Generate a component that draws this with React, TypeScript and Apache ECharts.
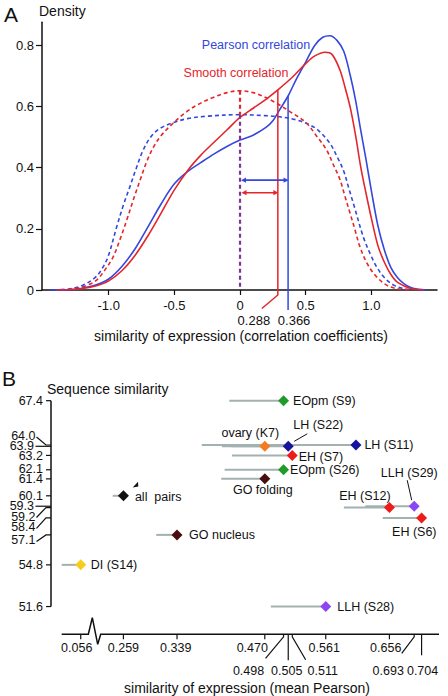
import React, { useEffect, useRef } from "react";
import * as echarts from "echarts";

const FONT = '"Liberation Sans", Arial, Helvetica, sans-serif';
const BLUE = "#3448dc";
const RED = "#e4262b";
const PURPLE_LINE = "#7d3598";
const INK = "#111111";

// ---------------- Panel A data ----------------
const pearsonObserved: number[][] = [
  [-1.45, 0], [-1.3, 0.001], [-1.2, 0.006], [-1.1, 0.016], [-1.0, 0.036], [-0.9, 0.077],
  [-0.8, 0.134], [-0.7, 0.207], [-0.6, 0.282], [-0.5, 0.347], [-0.4, 0.387], [-0.3, 0.416],
  [-0.2, 0.444], [-0.1, 0.469], [0, 0.49], [0.1, 0.506], [0.2, 0.532], [0.25, 0.553],
  [0.3, 0.588], [0.366, 0.634], [0.43, 0.69], [0.5, 0.745], [0.57, 0.8], [0.63, 0.826],
  [0.685, 0.831], [0.74, 0.815], [0.79, 0.78], [0.84, 0.7], [0.88, 0.62], [0.92, 0.52],
  [0.96, 0.425], [1.0, 0.325], [1.05, 0.21], [1.1, 0.13], [1.15, 0.072], [1.2, 0.04],
  [1.25, 0.02], [1.3, 0.008], [1.36, 0.002], [1.42, 0],
];
const smoothObserved: number[][] = [
  [-1.4, 0], [-1.3, 0.001], [-1.2, 0.005], [-1.1, 0.013], [-1.0, 0.03], [-0.9, 0.063],
  [-0.8, 0.113], [-0.7, 0.178], [-0.6, 0.252], [-0.5, 0.327], [-0.4, 0.39], [-0.3, 0.44],
  [-0.2, 0.482], [-0.1, 0.523], [0, 0.564], [0.1, 0.594], [0.2, 0.624], [0.288, 0.654],
  [0.4, 0.696], [0.5, 0.74], [0.57, 0.765], [0.647, 0.777], [0.7, 0.77], [0.76, 0.72],
  [0.8, 0.662], [0.84, 0.595], [0.88, 0.505], [0.92, 0.4], [0.96, 0.315], [1.0, 0.235],
  [1.05, 0.145], [1.1, 0.09], [1.15, 0.05], [1.2, 0.025], [1.3, 0.005], [1.4, 0],
];
const pearsonRandom: number[][] = [
  [-1.42, 0], [-1.3, 0.004], [-1.2, 0.015], [-1.1, 0.042], [-1.04, 0.077], [-1.0, 0.115],
  [-0.94, 0.205], [-0.89, 0.275], [-0.84, 0.336], [-0.79, 0.398], [-0.74, 0.455], [-0.68, 0.5],
  [-0.61, 0.528], [-0.5, 0.548], [-0.4, 0.56], [-0.25, 0.568], [0, 0.573], [0.18, 0.57],
  [0.3, 0.566], [0.43, 0.556], [0.53, 0.54], [0.6, 0.52], [0.685, 0.479], [0.74, 0.435],
  [0.79, 0.388], [0.83, 0.33], [0.87, 0.273], [0.94, 0.172], [1.0, 0.11], [1.04, 0.076],
  [1.1, 0.04], [1.17, 0.016], [1.24, 0.005], [1.32, 0],
];
const smoothRandom: number[][] = [
  [-1.36, 0], [-1.25, 0.005], [-1.15, 0.018], [-1.09, 0.033], [-1.03, 0.065], [-0.97, 0.105],
  [-0.91, 0.17], [-0.86, 0.232], [-0.81, 0.298], [-0.76, 0.36], [-0.71, 0.42], [-0.66, 0.466],
  [-0.6, 0.505], [-0.51, 0.545], [-0.42, 0.578], [-0.33, 0.604], [-0.2, 0.63], [-0.1, 0.645],
  [0, 0.651], [0.1, 0.645], [0.18, 0.632], [0.28, 0.61], [0.38, 0.583], [0.5, 0.548],
  [0.58, 0.505], [0.66, 0.457], [0.71, 0.41], [0.76, 0.362], [0.8, 0.305], [0.84, 0.248],
  [0.88, 0.19], [0.91, 0.145], [0.97, 0.085], [1.04, 0.043], [1.12, 0.015], [1.2, 0.004], [1.3, 0],
];
const densityTicks = [0, 0.2, 0.4, 0.6, 0.8];
const coefficientTicks = [-1, -0.5, 0, 0.5, 1];
// index 0 = Pearson, index 1 = Smooth
const medianShift = [0.366, 0.288];
const shiftLineTop = [0.634, 0.654];
const shiftArrowLevel = [0.359, 0.318];
const randomAtZero = [0.573, 0.651];

// ---------------- Panel B data ----------------
const groupNames = [
  "EOpm (S9)", "ovary (K7)", "LH (S22)", "LH (S11)", "EH (S7)", "EOpm (S26)", "GO folding",
  "all  pairs", "EH (S12)", "LLH (S29)", "EH (S6)", "GO nucleus", "DI (S14)", "LLH (S28)",
];
const meanPearson = [0.498, 0.470, 0.505, 0.606, 0.511, 0.498, 0.470, 0.259, 0.656, 0.693, 0.704, 0.339, 0.056, 0.561];
const sequenceSimilarity = [67.4, 63.9, 63.9, 64.0, 63.2, 62.1, 61.4, 60.1, 59.2, 59.3, 58.4, 57.1, 54.8, 51.6];
const rangeLower = [0.417, 0.42, 0.406, 0.376, 0.421, 0.41, 0.405, 0.243, 0.588, 0.62, 0.646, 0.308, 0.0276, 0.479];
const seqTicks = [67.4, 64.0, 63.9, 63.2, 62.1, 61.4, 60.1, 59.3, 59.2, 58.4, 57.1, 54.8, 51.6];
const pearsonTicks = [0.056, 0.259, 0.339, 0.470, 0.498, 0.505, 0.511, 0.561, 0.656, 0.693, 0.704];

// ---------------- styles / layout ----------------
const GREEN = "#1f9b2c", ORANGE = "#f47c20", NAVY = "#14149c", PRED = "#ee1b1b";
const BROWN = "#4a0d0d", VIOLET = "#8c46f2", YELLOW = "#f8cc1a";
const pointColors = [GREEN, ORANGE, NAVY, NAVY, PRED, GREEN, BROWN, INK, PRED, VIOLET, PRED, BROWN, YELLOW, VIOLET];
type LabelLayout = { dx: number; dy: number; align: string; leader?: number[][]; mark?: number[][] };
const pointLabelLayout: LabelLayout[] = [
  { dx: 9.5, dy: 0.5, align: "left" },
  { dx: -14.5, dy: -13.5, align: "center" },
  { dx: 30, dy: -21, align: "center", leader: [[6, -5], [19, -12.5]] },
  { dx: 8.5, dy: 0, align: "left" },
  { dx: 6.5, dy: 1.5, align: "left" },
  { dx: 6.5, dy: 0, align: "left" },
  { dx: -2, dy: 11.5, align: "center" },
  { dx: 11.5, dy: 1, align: "left", mark: [[9.3, -8.4], [14.6, -14], [14.9, -9.2]] },
  { dx: -24.5, dy: -11.5, align: "center" },
  { dx: -5, dy: -33, align: "center", leader: [[-7, -26], [-2.5, -6]] },
  { dx: -7.3, dy: 14, align: "center" },
  { dx: 12, dy: 0, align: "left" },
  { dx: 10, dy: 0.5, align: "left" },
  { dx: 11.5, dy: 0.5, align: "left" },
];
// y tick kinds: n = normal, l = leader (label moved by dy), t = long tick
const seqTickLayout = [
  { k: "n", dy: 0 }, { k: "l", dy: -9 }, { k: "t", dy: 0 }, { k: "n", dy: 0.5 }, { k: "n", dy: -0.7 },
  { k: "n", dy: 0.5 }, { k: "n", dy: 0 }, { k: "t", dy: 0 }, { k: "l", dy: 9 }, { k: "l", dy: 9.5 },
  { k: "l", dy: 5.5 }, { k: "n", dy: 0 }, { k: "n", dy: 0 },
];
// x tick kinds: n = normal row 1; v = long vertical + row 2; d = diagonal leader + row 2
const pearsonTickLayout = [
  { k: "n", dx: -4 }, { k: "n", dx: 0 }, { k: "n", dx: -1.3 }, { k: "n", dx: -12.5 },
  { k: "d", dx: -35, lx: -18, ly: 24 }, { k: "v", dx: -1.5, len: 26 }, { k: "d", dx: 30.5, lx: 13.4, ly: 25.5 },
  { k: "n", dx: -1.5 }, { k: "n", dx: -3.7 }, { k: "d", dx: -26, lx: -12.5, ly: 19 },
  { k: "v", dx: 1, len: 21 },
];

const XB_MIN = 0.0276, XB_MAX = 0.73, BREAK_START = 0.07, BREAK_END = 0.24, BREAK_GAP = 0.0307;
const YB_MIN = 49.47, YB_MAX = 67.4;

function txt(x: number, y: number, text: string, fill: string, size: number, align = "center", lineHeight?: number) {
  const style: any = { text, fill, fontSize: size, fontFamily: FONT, align, verticalAlign: "middle" };
  if (lineHeight) style.lineHeight = lineHeight;
  return { type: "text", x, y, style };
}
function seg(x1: number, y1: number, x2: number, y2: number, stroke: string, lineWidth = 1.2, lineDash?: number[]) {
  return { type: "line", shape: { x1, y1, x2, y2 }, style: { stroke, lineWidth, lineDash, fill: "none" } };
}
function arrowPieces(xa: number, xb: number, y: number, color: string) {
  const h = 5, w = 2.6;
  return [
    seg(xa + 2, y, xb - 2, y, color, 1.6),
    { type: "polygon", shape: { points: [[xa, y], [xa + h, y - w], [xa + h, y + w]] }, style: { fill: color } },
    { type: "polygon", shape: { points: [[xb, y], [xb - h, y - w], [xb - h, y + w]] }, style: { fill: color } },
  ];
}

function renderTopAnnotations(_p: any, api: any) {
  const [x0, y0] = api.coord([0, 0]);
  const blueTop = api.coord([0, randomAtZero[0]])[1];
  const redTop = api.coord([0, randomAtZero[1]])[1];
  const children: any[] = [];
  children.push(seg(x0, redTop, x0, blueTop, RED, 2.2, [4, 3]));
  children.push(seg(x0, blueTop, x0, y0, PURPLE_LINE, 2.2, [4, 3]));
  const r = api.coord([medianShift[1], shiftLineTop[1]]);
  children.push({
    type: "polyline",
    shape: { points: [[r[0], r[1]], [r[0], y0 + 5], [r[0] - 16, y0 + 18.5]] },
    style: { stroke: RED, lineWidth: 1.5, fill: "none" },
  });
  const b = api.coord([medianShift[0], shiftLineTop[0]]);
  children.push(seg(b[0], b[1], b[0], y0 + 20, BLUE, 1.5));
  const ba = api.coord([medianShift[0], shiftArrowLevel[0]]);
  children.push(...arrowPieces(x0 + 1, ba[0] + 0.5, ba[1], BLUE));
  const ra = api.coord([medianShift[1], shiftArrowLevel[1]]);
  children.push(...arrowPieces(x0 + 1.5, ra[0] + 0.5, ra[1], RED));
  children.push(txt(r[0] - 24, y0 + 30, medianShift[1].toFixed(3), INK, 13));
  children.push(txt(b[0] + 6, y0 + 30, medianShift[0].toFixed(3), INK, 13));
  return { type: "group", children };
}

function renderBottomAxes(_p: any, api: any) {
  const c = (x: number, y: number) => api.coord([x, y]);
  const [xl, axisY] = c(XB_MIN, YB_MIN);
  const xr = c(XB_MAX, YB_MIN)[0];
  const bx = c(BREAK_START, YB_MIN)[0];
  const children: any[] = [];
  children.push({
    type: "polyline",
    shape: {
      points: [[xl, axisY], [bx - 1.8, axisY], [bx + 2.2, axisY - 16.6], [bx + 7.6, axisY + 10],
        [bx + 10.6, axisY], [xr, axisY]],
    },
    style: { stroke: INK, lineWidth: 1.5, fill: "none" },
  });
  pearsonTicks.forEach((v, i) => {
    const L = pearsonTickLayout[i] as any;
    const px = c(v, YB_MIN)[0];
    const label = v.toFixed(3);
    if (L.k === "n") {
      children.push(seg(px, axisY, px, axisY + 5, INK, 1.2));
      children.push(txt(px + L.dx, axisY + 13.4, label, INK, 12.5));
    } else if (L.k === "v") {
      children.push(seg(px, axisY, px, axisY + L.len, INK, 1.2));
      children.push(txt(px + L.dx, axisY + 36.3, label, INK, 12.5));
    } else {
      children.push({
        type: "polyline",
        shape: { points: [[px, axisY], [px, axisY + 2.5], [px + L.lx, axisY + L.ly]] },
        style: { stroke: INK, lineWidth: 1.2, fill: "none" },
      });
      children.push(txt(px + L.dx, axisY + 36.3, label, INK, 12.5));
    }
  });
  const axisX = xl - 10.7;
  const yTop = c(XB_MIN, seqTicks[0])[1];
  const yBot = c(XB_MIN, seqTicks[seqTicks.length - 1])[1];
  children.push(seg(axisX, yTop, axisX, yBot, INK, 1.5));
  seqTicks.forEach((v, i) => {
    const L = seqTickLayout[i];
    const py = c(XB_MIN, v)[1];
    const label = v.toFixed(1);
    if (L.k === "n") {
      children.push(seg(axisX - 5, py, axisX, py, INK, 1.2));
      children.push(txt(axisX - 8, py + L.dy, label, INK, 12.5, "right", 10));
    } else if (L.k === "t") {
      children.push(seg(axisX - 15.5, py, axisX, py, INK, 1.2));
      children.push(txt(axisX - 17, py, label, INK, 12.5, "right", 10));
    } else {
      const ly = py + L.dy;
      children.push({
        type: "polyline",
        shape: { points: [[axisX - 14.5, ly + 1], [axisX - 5, py], [axisX, py]] },
        style: { stroke: INK, lineWidth: 1.2, fill: "none" },
      });
      children.push(txt(axisX - 15.5, ly, label, INK, 12.5, "right", 10));
    }
  });
  return { type: "group", children };
}

function renderRanges(p: any, api: any) {
  const i = p.dataIndex;
  const a = api.coord([rangeLower[i], sequenceSimilarity[i]]);
  const b = api.coord([meanPearson[i], sequenceSimilarity[i]]);
  return seg(a[0], a[1], b[0], b[1], "#a3b1b1", 2);
}

function renderPoints(p: any, api: any) {
  const i = p.dataIndex;
  const [cx, cy] = api.coord([meanPearson[i], sequenceSimilarity[i]]);
  const L = pointLabelLayout[i];
  const h = 5.5;
  const children: any[] = [
    {
      type: "polygon",
      shape: { points: [[cx, cy - h], [cx + h, cy], [cx, cy + h], [cx - h, cy]] },
      style: { fill: pointColors[i] },
    },
    txt(cx + L.dx, cy + L.dy, groupNames[i], INK, 12.5, L.align),
  ];
  if (L.leader) {
    children.push(seg(cx + L.leader[0][0], cy + L.leader[0][1], cx + L.leader[1][0], cy + L.leader[1][1], INK, 1));
  }
  if (L.mark) {
    children.push({
      type: "polygon",
      shape: { points: L.mark.map((q) => [cx + q[0], cy + q[1]]) },
      style: { fill: INK },
    });
  }
  return { type: "group", children };
}

function lineSeries(data: number[][], color: string, dashed: boolean, z: number) {
  return {
    type: "line",
    xAxisIndex: 0,
    yAxisIndex: 0,
    data,
    symbol: "none",
    smooth: 0.35,
    z,
    lineStyle: { color, width: 1.6, type: dashed ? [4, 3] : "solid" },
    silent: true,
  };
}

export default function App() {
  const ref = useRef<HTMLDivElement>(null);
  useEffect(() => {
    if (!ref.current) return;
    const chart = echarts.init(ref.current, undefined, { renderer: "svg" });
    const axisText = { color: INK, fontSize: 13, fontFamily: FONT };
    const option: any = {
      animation: false,
      backgroundColor: "#ffffff",
      grid: [
        { left: 42, top: 22.25, width: 395, height: 267.75, containLabel: false },
        { left: 61.7, top: 400.7, width: 377.3, height: 233.6, containLabel: false },
      ],
      xAxis: [
        {
          type: "value", gridIndex: 0, min: -1.508, max: 1.5,
          axisLine: { show: true, onZero: false, lineStyle: { color: INK, width: 1.5 } },
          axisTick: { show: true, customValues: coefficientTicks, length: 5, lineStyle: { color: INK, width: 1.2 } },
          axisLabel: {
            show: true, customValues: coefficientTicks, margin: 9, ...axisText,
            formatter: (v: number) => (v === 0 ? "0" : v.toFixed(1)),
          },
          splitLine: { show: false },
        },
        {
          type: "value", gridIndex: 1, min: XB_MIN, max: XB_MAX,
          breaks: [{ start: BREAK_START, end: BREAK_END, gap: BREAK_GAP }],
          breakArea: { show: false, itemStyle: { opacity: 0 } },
          axisLine: { show: false }, axisTick: { show: false }, axisLabel: { show: false },
          splitLine: { show: false },
        },
      ],
      yAxis: [
        {
          type: "value", gridIndex: 0, min: 0, max: 0.875,
          axisLine: { show: true, onZero: false, lineStyle: { color: INK, width: 1.5 } },
          axisTick: { show: true, customValues: densityTicks, length: 6, lineStyle: { color: INK, width: 1.2 } },
          axisLabel: {
            show: true, customValues: densityTicks, margin: 8, ...axisText,
            formatter: (v: number) => (v === 0 ? "0" : v.toFixed(1)),
          },
          splitLine: { show: false },
        },
        {
          type: "value", gridIndex: 1, min: YB_MIN, max: YB_MAX,
          axisLine: { show: false }, axisTick: { show: false }, axisLabel: { show: false },
          splitLine: { show: false },
        },
      ],
      graphic: [
        { type: "text", x: 4, y: 14.5, style: { text: "A", fill: INK, fontSize: 21, fontFamily: FONT, align: "left", verticalAlign: "middle" } },
        { type: "text", x: 39, y: 10.5, style: { text: "Density", fill: INK, fontSize: 14, fontFamily: FONT, align: "left", verticalAlign: "middle" } },
        { type: "text", x: 256, y: 44.5, style: { text: "Pearson correlation", fill: BLUE, fontSize: 12.5, fontFamily: FONT, align: "center", verticalAlign: "middle" } },
        { type: "text", x: 236, y: 72.7, style: { text: "Smooth correlation", fill: RED, fontSize: 12.5, fontFamily: FONT, align: "center", verticalAlign: "middle" } },
        { type: "text", x: 241, y: 335.5, style: { text: "similarity of expression (correlation coefficients)", fill: INK, fontSize: 14, fontFamily: FONT, align: "center", verticalAlign: "middle" } },
        { type: "text", x: 2, y: 378.5, style: { text: "B", fill: INK, fontSize: 21, fontFamily: FONT, align: "left", verticalAlign: "middle" } },
        { type: "text", x: 47, y: 389, style: { text: "Sequence similarity", fill: INK, fontSize: 14, fontFamily: FONT, align: "left", verticalAlign: "middle" } },
        { type: "text", x: 247, y: 688, style: { text: "similarity of expression (mean Pearson)", fill: INK, fontSize: 14, fontFamily: FONT, align: "center", verticalAlign: "middle" } },
      ],
      series: [
        lineSeries(pearsonRandom, BLUE, true, 2),
        lineSeries(smoothRandom, RED, true, 2),
        lineSeries(pearsonObserved, BLUE, false, 3),
        lineSeries(smoothObserved, RED, false, 3),
        {
          type: "custom", xAxisIndex: 0, yAxisIndex: 0, data: [[0, 0.3]],
          renderItem: renderTopAnnotations, silent: true, z: 4,
        },
        {
          type: "custom", xAxisIndex: 1, yAxisIndex: 1, data: [[0.3, 60]],
          renderItem: renderBottomAxes, silent: true, z: 2,
        },
        {
          type: "custom", xAxisIndex: 1, yAxisIndex: 1,
          data: meanPearson.map((x, i) => [x, sequenceSimilarity[i]]),
          renderItem: renderRanges, silent: true, z: 3,
        },
        {
          type: "custom", xAxisIndex: 1, yAxisIndex: 1,
          data: meanPearson.map((x, i) => [x, sequenceSimilarity[i]]),
          renderItem: renderPoints, silent: true, z: 4,
        },
      ],
    };
    chart.setOption(option);
    return () => chart.dispose();
  }, []);
  return (
    <div
      ref={ref}
      style={{ position: "fixed", left: 0, top: 0, width: 448, height: 696, background: "#fff" }}
    />
  );
}
